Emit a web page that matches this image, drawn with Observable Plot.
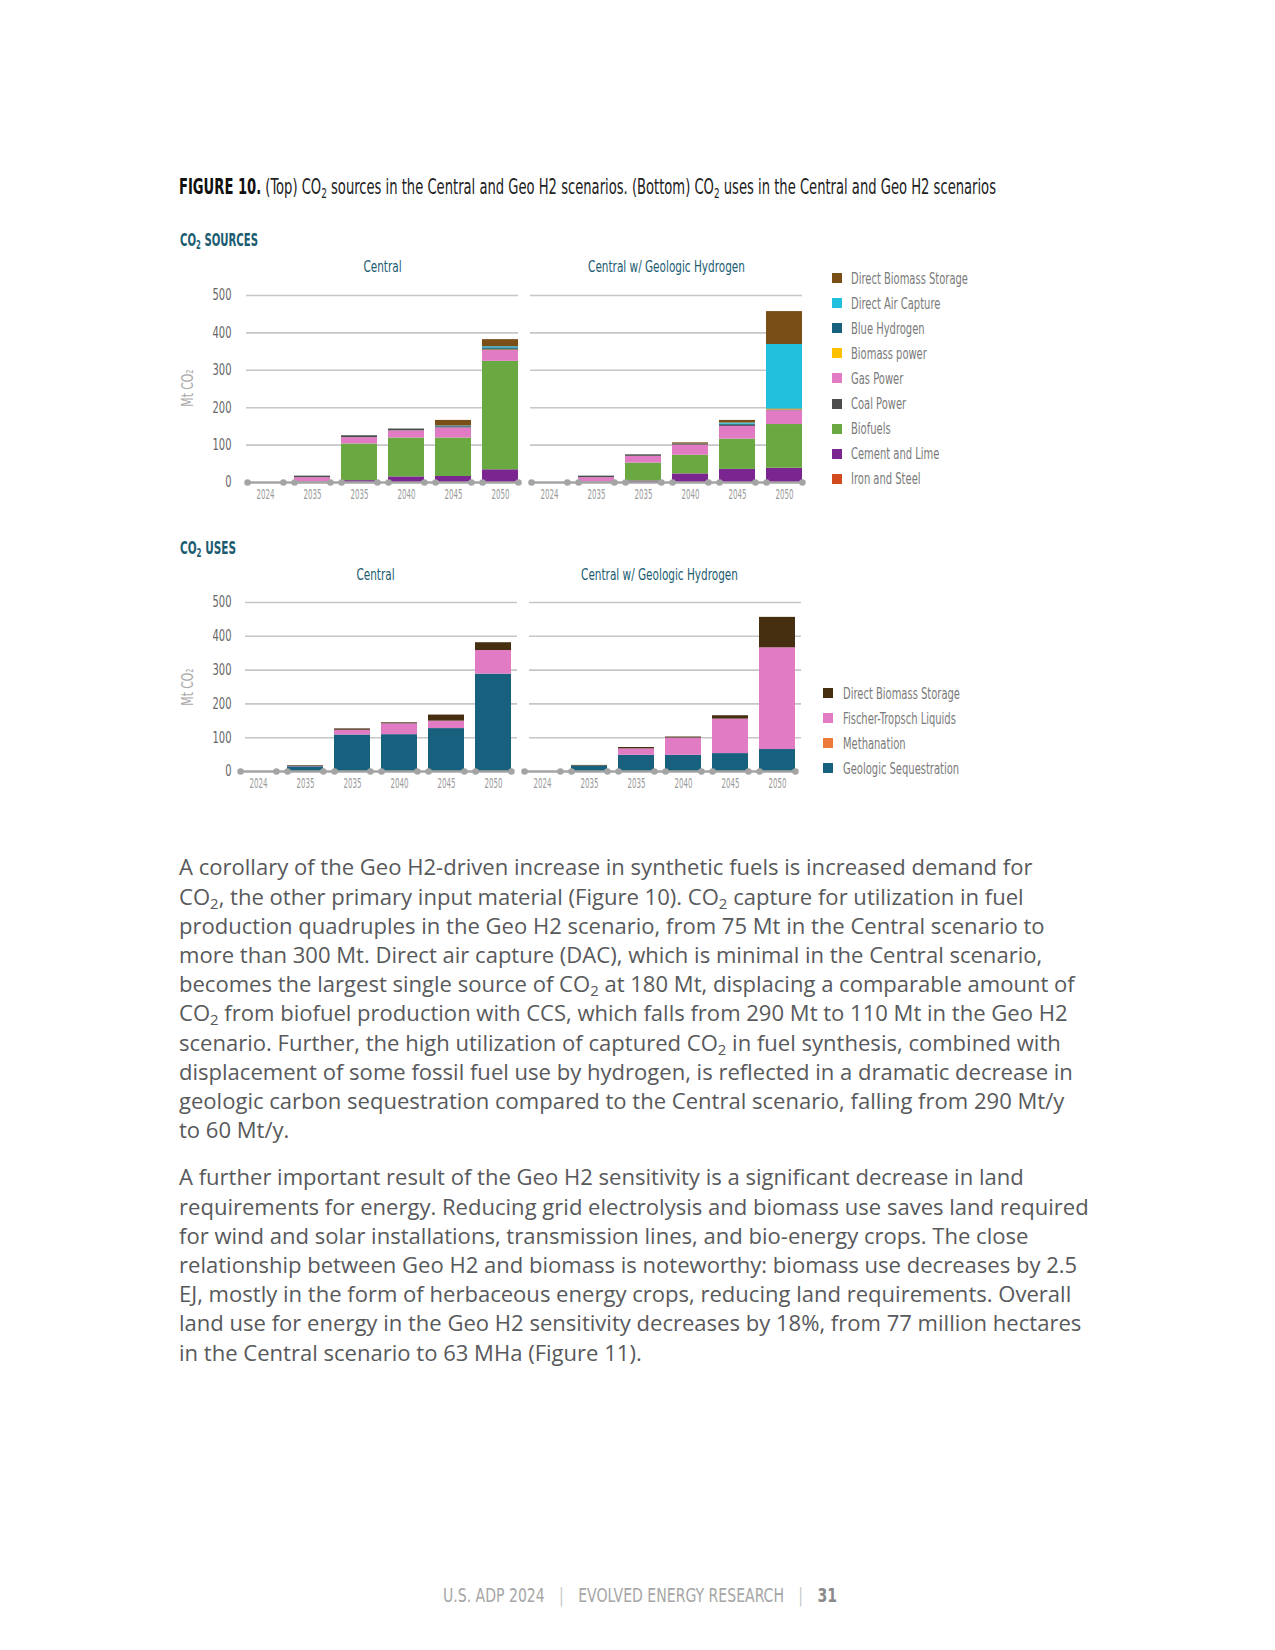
<!DOCTYPE html>
<html><head><meta charset="utf-8">
<script src="https://cdn.jsdelivr.net/npm/d3@7"></script>
<script src="https://cdn.jsdelivr.net/npm/@observablehq/plot@0.6"></script>
<style>
body{margin:0;background:#fff;}
#page{position:relative;width:1275px;height:1650px;overflow:hidden;background:#fff;}
.abs{position:absolute;white-space:nowrap;}
.narrow{font-family:'Liberation Sans Narrow','DejaVu Sans Condensed',Roboto,sans-serif;}
.bodytxt{font-family:'Open Sans',sans-serif;color:#58595b;}
sub{font-size:0.68em;vertical-align:-0.28em;line-height:0;}
</style></head>
<body><div id="page"></div>
<script>
// ---------------- DATA ----------------
const years = ["2024","2035","2035","2040","2045","2050"];
const scenarios = ["Central","Central w/ Geologic Hydrogen"];
const yTicks = [0,100,200,300,400,500];

// CO2 sources, stack order bottom -> top
const sourceCats = ["Iron and Steel","Cement and Lime","Biofuels","Gas Power","Coal Power","Biomass power","Blue Hydrogen","Direct Air Capture","Direct Biomass Storage"];
const sourceColors = ["#d24b1f","#7b2590","#6aa842","#e07bc4","#4d4d4d","#ffc000","#17607e","#22c0dd","#7a4e17"];
const legendSourceOrder = ["Direct Biomass Storage","Direct Air Capture","Blue Hydrogen","Biomass power","Gas Power","Coal Power","Biofuels","Cement and Lime","Iron and Steel"];

const ironSteelCentral    = [0,0,0,0,0,0];
const cementCentral       = [0,1,5,15,16,34];
const biofuelsCentral     = [0,1,98,104,103,290];
const gasPowerCentral     = [0,11,17,19,27,29];
const coalPowerCentral    = [0,4,5,5,2,2];
const biomassPowerCentral = [0,0,0,0,0,1];
const blueH2Central       = [0,0,0,0,2,4];
const dacCentral          = [0,0,0,0,1,3];
const dbsSrcCentral       = [0,0,0,0,15,19];

const ironSteelGeo    = [0,0,0,0,0,0];
const cementGeo       = [0,1,4,23,35,38];
const biofuelsGeo     = [0,1,48,50,81,117];
const gasPowerGeo     = [0,11,18,27,34,37];
const coalPowerGeo    = [0,4,4,3,3,2];
const biomassPowerGeo = [0,0,0,0,0,2];
const blueH2Geo       = [0,0,0,0,3,1];
const dacGeo          = [0,0,0,0,3,172];
const dbsSrcGeo       = [0,0,0,3,7,88];

// CO2 uses, stack order bottom -> top
const useCats = ["Geologic Sequestration","Methanation","Fischer-Tropsch Liquids","Direct Biomass Storage"];
const useColors = ["#17607e","#ee7a3a","#e07bc4","#452f10"];
const legendUseOrder = ["Direct Biomass Storage","Fischer-Tropsch Liquids","Methanation","Geologic Sequestration"];

const geoSeqCentral      = [0,14,108,109,127,288];
const methanationCentral = [0,0,0,0,0,0];
const ftCentral          = [0,1,14,32,22,70];
const dbsUseCentral      = [0,2,4,3,18,23];

const geoSeqGeo      = [0,16,48,48,53,65];
const methanationGeo = [0,0,0,0,0,0];
const ftGeo          = [0,0,19,51,102,301];
const dbsUseGeo      = [0,2,4,3,10,90];

const para1 = [
 "A corollary of the Geo H2-driven increase in synthetic fuels is increased demand for",
 "CO₂, the other primary input material (Figure 10). CO₂ capture for utilization in fuel",
 "production quadruples in the Geo H2 scenario, from 75 Mt in the Central scenario to",
 "more than 300 Mt. Direct air capture (DAC), which is minimal in the Central scenario,",
 "becomes the largest single source of CO₂ at 180 Mt, displacing a comparable amount of",
 "CO₂ from biofuel production with CCS, which falls from 290 Mt to 110 Mt in the Geo H2",
 "scenario. Further, the high utilization of captured CO₂ in fuel synthesis, combined with",
 "displacement of some fossil fuel use by hydrogen, is reflected in a dramatic decrease in",
 "geologic carbon sequestration compared to the Central scenario, falling from 290 Mt/y",
 "to 60 Mt/y."
];
const para2 = [
 "A further important result of the Geo H2 sensitivity is a significant decrease in land",
 "requirements for energy. Reducing grid electrolysis and biomass use saves land required",
 "for wind and solar installations, transmission lines, and bio-energy crops. The close",
 "relationship between Geo H2 and biomass is noteworthy: biomass use decreases by 2.5",
 "EJ, mostly in the form of herbaceous energy crops, reducing land requirements. Overall",
 "land use for energy in the Geo H2 sensitivity decreases by 18%, from 77 million hectares",
 "in the Central scenario to 63 MHa (Figure 11)."
];

// ---------------- TIDY TABLES ----------------
const srcSeries = {
  "Central": [ironSteelCentral,cementCentral,biofuelsCentral,gasPowerCentral,coalPowerCentral,biomassPowerCentral,blueH2Central,dacCentral,dbsSrcCentral],
  "Central w/ Geologic Hydrogen": [ironSteelGeo,cementGeo,biofuelsGeo,gasPowerGeo,coalPowerGeo,biomassPowerGeo,blueH2Geo,dacGeo,dbsSrcGeo]
};
const useSeries = {
  "Central": [geoSeqCentral,methanationCentral,ftCentral,dbsUseCentral],
  "Central w/ Geologic Hydrogen": [geoSeqGeo,methanationGeo,ftGeo,dbsUseGeo]
};
function tidy(series, cats) {
  const rows = [];
  for (const s of scenarios) cats.forEach((c, ci) => series[s][ci].forEach((v, i) => rows.push({scenario: s, cat: c, idx: i, value: v})));
  return rows;
}
const srcRows = tidy(srcSeries, sourceCats);
const useRows = tidy(useSeries, useCats);

// ---------------- LAYOUT ----------------
const page = document.getElementById("page");
const NARROW = "'Liberation Sans Narrow','DejaVu Sans Condensed',Roboto,sans-serif";
const SVGW = 830, PANEL_GAP_PAD = 0.042, BAR_PAD = 0.244;

function stackedChart({rows, cats, colors, marginLeft, marginTop, height, marginBottom, gridDx, yPad, fxPad}) {
  const marginRight = SVGW - marginLeft - 558;
  const facetW = 558 / (2 - PANEL_GAP_PAD) * (1 - PANEL_GAP_PAD);
  const bw = facetW / (years.length - BAR_PAD) * (1 - BAR_PAD);
  const idxs = d3.range(years.length);
  return Plot.plot({
    width: SVGW, height, marginLeft, marginRight, marginTop, marginBottom,
    style: {fontFamily: NARROW, background: "transparent", overflow: "visible"},
    fx: {domain: scenarios, paddingInner: PANEL_GAP_PAD, paddingOuter: 0, label: null},
    x: {domain: idxs, paddingInner: BAR_PAD, paddingOuter: 0, label: null},
    y: {domain: [0, 500], label: null},
    color: {domain: cats, range: colors},
    marks: [
      Plot.ruleY(yTicks.filter(d => d > 0), {stroke: "#c6c6c6", strokeWidth: 1.6, dx: gridDx}),
      Plot.barY(rows, {fx: "scenario", x: "idx", y: "value", fill: "cat", order: cats}),
      Plot.ruleY([0], {stroke: "#a4a4a4", strokeWidth: 2.5}),
      Plot.dot(idxs, {x: d => d, y: 0, dx: -bw / 2, r: 3.3, fill: "#a4a4a4"}),
      Plot.dot(idxs, {x: d => d, y: 0, dx: bw / 2, r: 3.3, fill: "#a4a4a4"}),
      Plot.axisFx({anchor: "top", tickSize: 0, tickPadding: fxPad, label: null, fontSize: 16, color: "#1b5c70"}),
      Plot.axisX({tickSize: 0, tickPadding: 7, label: null, tickFormat: i => years[i], fontSize: 13.5, color: "#9a9a9a"}),
      Plot.axisY({ticks: yTicks, tickSize: 0, tickPadding: yPad, label: null, fontSize: 15.5, color: "#666"})
    ]
  });
}

function place(el, x, y) { el.style.position = "absolute"; el.style.left = x + "px"; el.style.top = y + "px"; page.appendChild(el); }

// horizontally condense the tick labels of an axis so a sample label matches the reference width
function condense(svg, label, sampleText, targetW) {
  const texts = [...svg.querySelectorAll(`g[aria-label="${label}"] text`)];
  const sample = texts.find(t => t.textContent.trim() === sampleText);
  if (!sample) return;
  const s = targetW / sample.getComputedTextLength();
  texts.forEach(t => {
    const xa = t.getAttribute("x");
    const x = xa && /^-?[\d.]+$/.test(xa) ? +xa : 0;
    const tr = t.getAttribute("transform") || "";
    t.setAttribute("transform", `${tr} translate(${x},0) scale(${s},1) translate(${-x},0)`);
  });
}
function condenseAll(svg) {
  condense(svg, "fx-axis tick label", "Central w/ Geologic Hydrogen", 157);
  condense(svg, "x-axis tick label", "2024", 18);
  condense(svg, "y-axis tick label", "500", 19);
}

const srcChart = stackedChart({rows: srcRows, cats: sourceCats, colors: sourceColors, marginLeft: 245, marginTop: 45, height: 257, marginBottom: 25, gridDx: 0, yPad: 15, fxPad: 24});
place(srcChart, 0, 250);
condenseAll(srcChart);
const useChart = stackedChart({rows: useRows, cats: useCats, colors: useColors, marginLeft: 238, marginTop: 57, height: 251, marginBottom: 25, gridDx: 6, yPad: 8, fxPad: 23});
place(useChart, 0, 545);
condenseAll(useChart);

// ---------------- TEXT ----------------
function addText(html, {x, y, size, color, weight = 400, cls = "narrow", lh, fitW, scale}) {
  const d = document.createElement("div");
  d.className = "abs " + cls;
  d.innerHTML = html;
  const L = lh || Math.round(size * 1.3);
  Object.assign(d.style, {left: x + "px", top: (y - L / 2) + "px", fontSize: size + "px", lineHeight: L + "px", color, fontWeight: weight});
  page.appendChild(d);
  const s = fitW ? fitW / d.getBoundingClientRect().width : scale;
  if (s) {
    d.style.transformOrigin = "0 50%";
    d.style.transform = `scaleX(${s})`;
  }
  return d;
}
const sub2 = s => s.replace(/CO₂/g, "CO<sub>2</sub>");

addText(`<span style="font-weight:700;color:#111">FIGURE 10.</span> (Top) CO<sub>2</sub> sources in the Central and Geo H2 scenarios. (Bottom) CO<sub>2</sub> uses in the Central and Geo H2 scenarios`,
  {x: 179, y: 187, size: 21, color: "#222", fitW: 817});
addText(`CO<sub>2</sub> SOURCES`, {x: 180, y: 240, size: 17, color: "#1b5c70", weight: 700, fitW: 78});
addText(`CO<sub>2</sub> USES`, {x: 180, y: 548, size: 17, color: "#1b5c70", weight: 700, fitW: 56});

function yLabel(cx, cy) {
  const d = document.createElement("div");
  d.className = "abs narrow";
  d.textContent = "Mt CO₂";
  Object.assign(d.style, {left: cx + "px", top: cy + "px", fontSize: "15px", color: "#aaa", transform: "translate(-50%,-50%) rotate(-90deg) scaleX(0.8)"});
  page.appendChild(d);
}
yLabel(188, 388);
yLabel(188, 687);

// legend label condensing factor: "Direct Biomass Storage" is 117 px wide in the reference
const probe = addText("Direct Biomass Storage", {x: 0, y: -100, size: 16, color: "#fff"});
const legendScale = 117 / probe.getBoundingClientRect().width;
probe.remove();

function legend(order, cats, colors, sqX, txtX, y0, step) {
  order.forEach((name, i) => {
    const y = y0 + i * step;
    const sq = document.createElement("div");
    Object.assign(sq.style, {position: "absolute", left: sqX + "px", top: (y - 5) + "px", width: "10px", height: "10px", background: colors[cats.indexOf(name)]});
    page.appendChild(sq);
    addText(name, {x: txtX, y, size: 16, color: "#7a7a7a", scale: legendScale});
  });
}
legend(legendSourceOrder, sourceCats, sourceColors, 832, 851, 278, 25.1);
legend(legendUseOrder, useCats, useColors, 823, 843, 693, 25);

// body paragraphs
const bodyLines = [];
function para(lines, top) {
  lines.forEach((t, i) => {
    const d = document.createElement("div");
    d.className = "abs bodytxt";
    d.innerHTML = sub2(t);
    Object.assign(d.style, {left: "179px", top: (top + i * 29.2) + "px", fontSize: "18.5px", lineHeight: "29.2px"});
    page.appendChild(d);
    bodyLines.push(d);
  });
}
para(para1, 852.4);
para(para2, 1162.4);
const refW = 910;
const natW = bodyLines[para1.length + 1].getBoundingClientRect().width;
const fs = 18.5 * refW / natW;
bodyLines.forEach(d => d.style.fontSize = fs + "px");

// footer
addText(`U.S. ADP 2024 <span style="margin:0 12px;color:#c8c8c8">|</span> EVOLVED ENERGY RESEARCH <span style="margin:0 12px;color:#c8c8c8">|</span> <span style="font-weight:700;color:#8a8a8a">31</span>`,
  {x: 443, y: 1595, size: 19, color: "#a6a6a6", fitW: 394});
</script>
</body></html>
